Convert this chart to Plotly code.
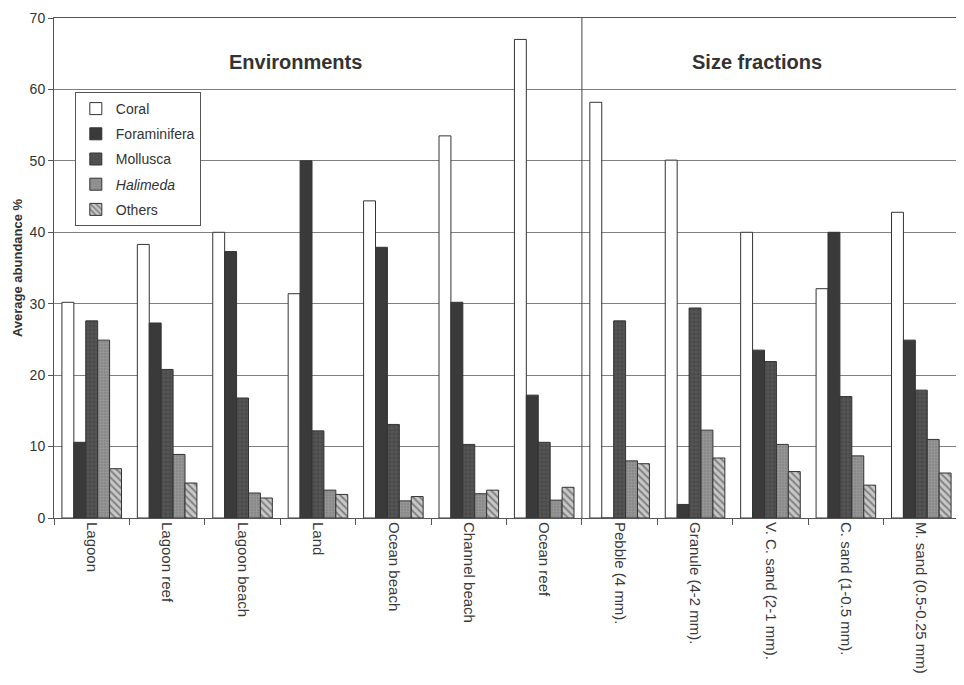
import plotly.graph_objects as go

categories = ["Lagoon", "Lagoon reef", "Lagoon beach", "Land", "Ocean beach",
              "Channel beach", "Ocean reef", "Pebble (4 mm).", "Granule (4-2 mm).",
              "V. C. sand (2-1 mm).", "C. sand (1-0.5 mm).", "M. sand (0.5-0.25 mm)"]

coral = [30.2, 38.3, 40.0, 31.4, 44.4, 53.5, 67.0, 58.2, 50.1, 40.0, 32.1, 42.8]
foraminifera = [10.6, 27.3, 37.3, 50.0, 37.9, 30.2, 17.2, 0.0, 1.9, 23.5, 40.0, 24.9]
mollusca = [27.6, 20.8, 16.8, 12.2, 13.1, 10.3, 10.6, 27.6, 29.4, 21.9, 17.0, 17.9]
halimeda = [24.9, 8.9, 3.5, 3.9, 2.4, 3.4, 2.5, 8.0, 12.3, 10.3, 8.7, 11.0]
others = [6.9, 4.9, 2.8, 3.3, 3.0, 3.9, 4.3, 7.6, 8.4, 6.5, 4.6, 6.3]

series_names = ["Coral", "Foraminifera", "Mollusca", "<i>Halimeda</i>", "Others"]
group_titles = ["Environments", "Size fractions"]

line = dict(color="#333333", width=1)
fig = go.Figure()
fig.add_bar(x=categories, y=coral, name=series_names[0], legendgroup="a",
            marker=dict(color="white", line=line))
fig.add_bar(x=categories, y=foraminifera, name=series_names[1], legendgroup="b",
            marker=dict(color="#3a3a3a", line=line))
fig.add_bar(x=categories, y=mollusca, name=series_names[2], legendgroup="c",
            marker=dict(color="#4a4a4a", line=line,
                        pattern=dict(shape="+", fgcolor="#777777", size=4, solidity=0.25)))
fig.add_bar(x=categories, y=halimeda, name=series_names[3], legendgroup="d",
            marker=dict(color="#8a8a8a", line=line,
                        pattern=dict(shape="+", fgcolor="#b0b0b0", size=3, solidity=0.3)))
fig.add_bar(x=categories, y=others, name=series_names[4], legendgroup="e",
            marker=dict(color="#c8c8c8", line=line,
                        pattern=dict(shape="\\", fgcolor="#3a3a3a", size=5, solidity=0.4)))

fig.add_shape(type="line", xref="x", yref="y", x0=6.5, x1=6.5, y0=0, y1=70,
              line=dict(color="#444444", width=1))

fig.add_annotation(x=2.7, y=63.8, xref="x", yref="y", text="<b>" + group_titles[0] + "</b>",
                   showarrow=False, font=dict(size=20, color="#333333", family="Liberation Sans"))
fig.add_annotation(x=8.82, y=63.8, xref="x", yref="y", text="<b>" + group_titles[1] + "</b>",
                   showarrow=False, font=dict(size=20, color="#333333", family="Liberation Sans"))

fig.update_layout(
    width=964, height=685,
    margin=dict(l=46, r=13, t=10, b=175),
    paper_bgcolor="white", plot_bgcolor="white",
    barmode="group", bargap=0.21, bargroupgap=0,
    font=dict(family="Liberation Sans", color="#333333", size=14),
    legend=dict(x=0.023, y=0.852, xanchor="left", yanchor="top",
                bgcolor="white", bordercolor="#555555", borderwidth=1,
                font=dict(size=14, color="#333333"), tracegroupgap=4,
                itemwidth=30),
    xaxis=dict(tickangle=90, tickson="boundaries", ticks="outside", ticklen=6,
               tickcolor="#555555", showline=True, linecolor="#555555", linewidth=1,
               mirror=True, showgrid=False, automargin=False,
               tickfont=dict(size=15, color="#3a3a3a")),
    yaxis=dict(range=[0, 70], dtick=10, ticks="outside", ticklen=5, tickcolor="#555555",
               showline=True, linecolor="#555555", linewidth=1, mirror=True,
               showgrid=True, gridcolor="#808080", gridwidth=1, automargin=False,
               ticklabeloverflow="allow",
               tickfont=dict(size=14, color="#333333"),
               title=dict(text="<b>Average abundance %</b>", font=dict(size=13, color="#333333"),
                          standoff=4)),
)

fig.write_html("out.html")
